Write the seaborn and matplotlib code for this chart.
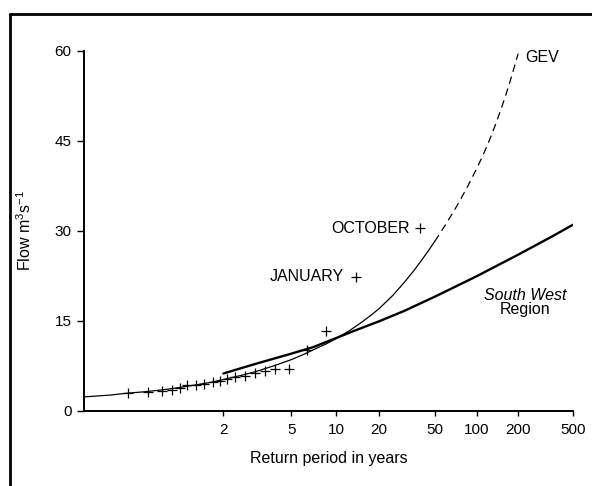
import numpy as np
import pandas as pd
import matplotlib
matplotlib.use("Agg")
import matplotlib.pyplot as plt
from matplotlib.lines import Line2D
import seaborn as sns

# ---- data ----
# annual maxima (return period in years, flow m3/s), Gumbel plotting positions
obs_T = [1.0335, 1.0965, 1.167, 1.240, 1.315, 1.393, 1.503, 1.628, 1.776, 1.925,
         2.088, 2.302, 2.613, 2.986, 3.402, 3.949, 4.813, 6.333, 8.55]
obs_Q = [2.9, 3.15, 3.3, 3.5, 3.75, 4.2, 4.35, 4.5, 4.7, 4.95,
         5.35, 5.6, 5.75, 6.2, 6.6, 6.95, 7.0, 10.1, 13.3]
jan_T, jan_Q = 13.77, 22.3
oct_T, oct_Q = 39.2, 30.4

# fitted GEV curve (solid part, then dashed extrapolation)
gev_T = [1.0008, 1.01, 1.03, 1.08, 1.18, 1.3, 1.5, 1.75, 2, 2.5, 3, 4, 5, 6, 7,
         8.5, 10, 12.5, 15, 17.5, 20, 25, 30, 35, 40, 45, 50]
gev_Q = [2.3, 2.6, 2.9, 3.15, 3.5, 3.85, 4.3, 4.75, 5.2, 5.9, 6.5, 7.6, 8.5, 9.35,
         10.15, 11.1, 12.0, 13.4, 14.7, 15.9, 17.0, 19.2, 21.3, 23.2, 25.0, 26.67,
         28.23]
gev_ext_T = [50, 60, 70, 85, 100, 112, 125, 137, 150, 162, 175, 185, 200]
gev_ext_Q = [28.23, 31.06, 33.6, 37.1, 40.3, 42.7, 45.3, 47.65, 50.2, 52.45, 54.9,
             56.8, 59.5]

# South West regional growth curve
sw_T = [2, 3, 5, 7, 10, 13, 20, 30, 50, 100, 200, 350, 500]
sw_Q = [6.2, 7.8, 9.5, 10.6, 12.1, 13.2, 14.9, 16.6, 19.0, 22.4, 26.0, 29.0, 31.0]

x_ticks = [2, 5, 10, 20, 50, 100, 200, 500]
y_ticks = [0, 15, 30, 45, 60]

# ---- style ----
sns.set_theme(style="ticks")
plt.rcParams["font.family"] = ["Liberation Sans", "DejaVu Sans"]
plt.rcParams["mathtext.default"] = "regular"


def fwd(T):
    T = np.asarray(T, dtype=float)
    with np.errstate(all="ignore"):
        T = np.clip(T, 1 + 1e-9, None)
        return -np.log(-np.log(1.0 - 1.0 / T))


def inv(v):
    v = np.asarray(v, dtype=float)
    with np.errstate(all="ignore"):
        return 1.0 / (1.0 - np.exp(-np.exp(-v)))


fig = plt.figure(figsize=(5.92, 4.86), dpi=100)
ax = fig.add_axes([84 / 592, 1 - 410.7 / 486, 489 / 592, 360 / 486])
ax.set_xscale("function", functions=(fwd, inv))

gev_df = pd.DataFrame({"T": gev_T, "Q": gev_Q})
gev_ext_df = pd.DataFrame({"T": gev_ext_T, "Q": gev_ext_Q})
sw_df = pd.DataFrame({"T": sw_T, "Q": sw_Q})
obs_df = pd.DataFrame({"T": obs_T + [jan_T, oct_T], "Q": obs_Q + [jan_Q, oct_Q]})

sns.lineplot(data=gev_df, x="T", y="Q", ax=ax, color="black", linewidth=0.9,
             sort=False)
sns.lineplot(data=gev_ext_df, x="T", y="Q", ax=ax, color="black", linewidth=0.9,
             sort=False, dashes=False, linestyle=(0, (6, 4)))
sns.lineplot(data=sw_df, x="T", y="Q", ax=ax, color="black", linewidth=1.7,
             sort=False)
sns.scatterplot(data=obs_df, x="T", y="Q", ax=ax, marker="+", color="black",
                s=60, linewidth=0.9, zorder=5)

ax.set_xlim(1.0008, 500)
ax.set_ylim(0, 60)
ax.set_xticks(x_ticks)
ax.set_xticklabels([str(t) for t in x_ticks])
ax.xaxis.set_minor_locator(matplotlib.ticker.NullLocator())
ax.set_yticks(y_ticks)
ax.set_yticklabels([str(t) for t in y_ticks])

for s in ["top", "right"]:
    ax.spines[s].set_visible(False)
for s in ["left", "bottom"]:
    ax.spines[s].set_linewidth(1.4)
    ax.spines[s].set_color("black")

ax.tick_params(axis="x", direction="out", length=3.6, width=1.0, pad=5,
               labelsize=11, colors="black")
ax.tick_params(axis="y", direction="out", length=5, width=1.0, pad=4,
               labelsize=11, colors="black")

ax.set_xlabel("Return period in years", fontsize=11.5, color="black")
ax.xaxis.set_label_coords(0.5, -0.112)
ax.set_ylabel("Flow m$^{3}$s$^{-1}$", fontsize=11.5, color="black")
ax.yaxis.set_label_coords(-0.102, 0.5)

ax.text(0.902, 0.98, "GEV", transform=ax.transAxes, ha="left", va="center",
        fontsize=11.5, color="black")
ax.text(0.667, 0.507, "OCTOBER", transform=ax.transAxes, ha="right",
        va="center", fontsize=11.5, color="black")
ax.text(0.532, 0.372, "JANUARY", transform=ax.transAxes, ha="right",
        va="center", fontsize=11.5, color="black")
ax.text(0.902, 0.321, "South West", transform=ax.transAxes, ha="center",
        va="center", fontsize=11.5, style="italic", color="black")
ax.text(0.902, 0.282, "Region", transform=ax.transAxes, ha="center",
        va="center", fontsize=11.5, color="black")

# page frame of the scanned figure
fig.add_artist(Line2D([10 / 592, 10 / 592], [0, 1 - 14 / 486],
                      transform=fig.transFigure, color="black", linewidth=2))
fig.add_artist(Line2D([10 / 592, 1], [1 - 14 / 486, 1 - 14 / 486],
                      transform=fig.transFigure, color="black", linewidth=2))

fig.savefig("out.png", dpi=100, facecolor="white")
